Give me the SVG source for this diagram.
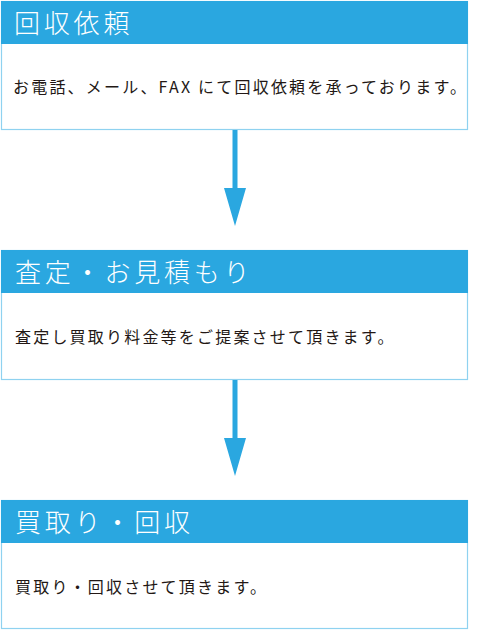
<svg xmlns="http://www.w3.org/2000/svg" width="500" height="633" viewBox="0 0 500 633">
<style>
.body{fill:#ffffff;stroke:#8fd2f0;stroke-width:1.2}
.head{fill:#2aa7e0}
.title{font-family:"Noto Sans CJK JP","Noto Sans",sans-serif;font-size:26px;fill:#ffffff;letter-spacing:3.8px;font-weight:300}
.txt{font-family:"Noto Sans CJK JP","Noto Sans",sans-serif;font-size:16px;fill:#231815;letter-spacing:2.2px}
.arrow{fill:#2aa7e0}
</style>
<rect width="500" height="633" fill="#ffffff"/>
<g id="step1">
<rect class="body" x="1.5" y="1.5" width="466" height="128"/>
<rect class="head" x="1" y="1" width="467" height="43"/>
<text class="title" x="14" y="33">回収依頼</text>
<text class="txt" x="13" y="93">お電話、メール、FAX にて回収依頼を承っております。</text>
</g>
<g id="step2">
<rect class="body" x="1.5" y="250.5" width="466" height="129"/>
<rect class="head" x="1" y="250" width="467" height="43"/>
<text class="title" x="15" y="282">査定・お見積もり</text>
<text class="txt" x="15" y="343">査定し買取り料金等をご提案させて頂きます。</text>
</g>
<g id="step3">
<rect class="body" x="1.5" y="500.5" width="466" height="128"/>
<rect class="head" x="1" y="500" width="467" height="43"/>
<text class="title" x="15" y="532">買取り・回収</text>
<text class="txt" x="15" y="593">買取り・回収させて頂きます。</text>
</g>
<g id="connectors">
<path class="arrow" d="M232.5 130 H237.5 V188 H246 L235 226 L224 188 H232.5 Z"/>
<path class="arrow" d="M232.5 380 H237.5 V438 H246 L235 476 L224 438 H232.5 Z"/>
</g>
</svg>
